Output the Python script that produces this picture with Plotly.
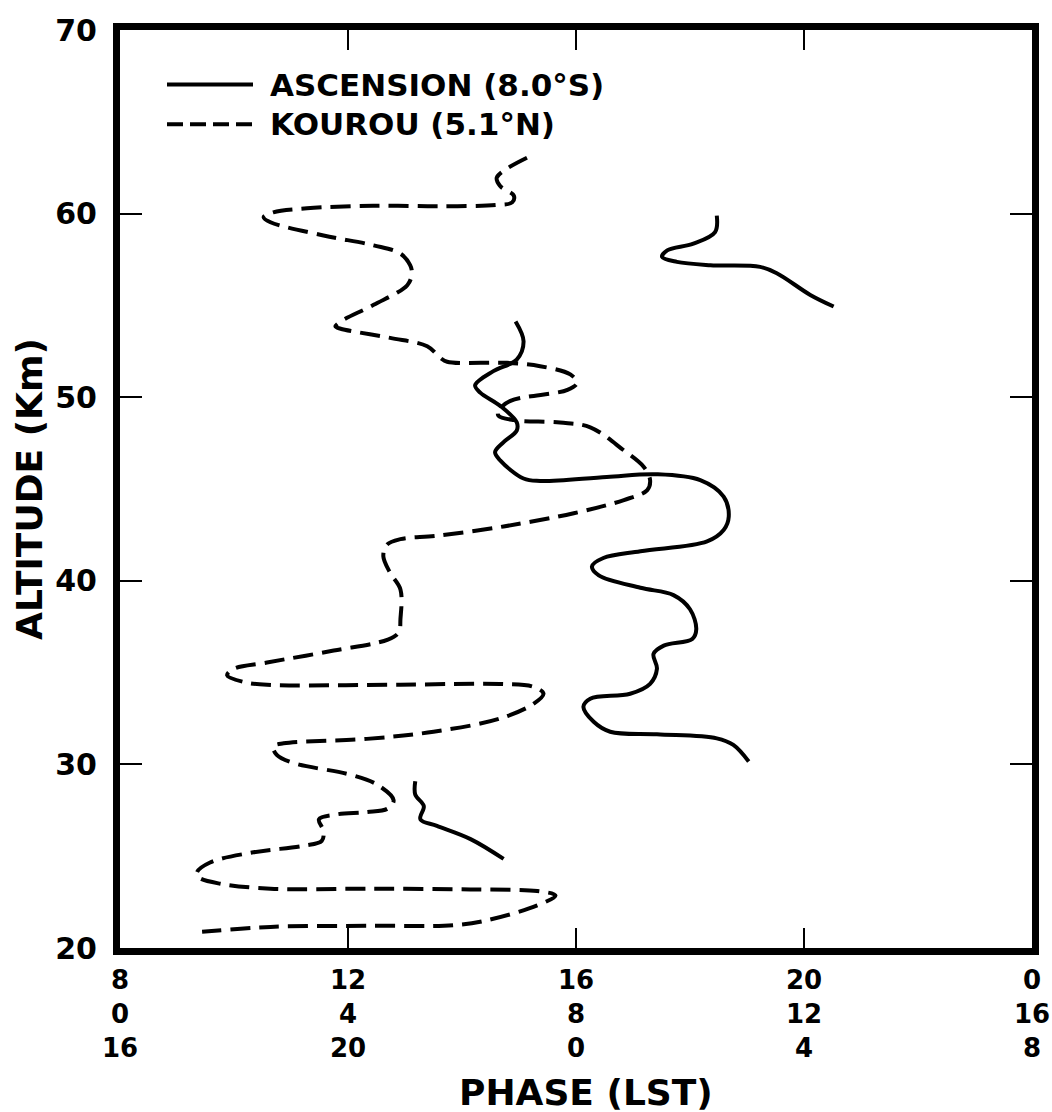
import plotly.graph_objects as go

# Kourou (5.1°N) phase profile: phase in hours (LST axis), altitude in km
kourou_phase = [15.14, 14.61, 14.67, 14.91, 14.88, 14.61, 13.62, 12.44, 11.28, 10.69,
                10.52, 10.64, 11.57, 12.45, 12.92, 13.09, 13.12, 13.04, 12.45, 11.87,
                11.78, 11.87, 12.74, 13.39, 13.62, 13.74, 14.79, 15.37, 15.90, 16.02,
                15.85, 14.85, 14.64, 14.64, 14.91, 15.72, 16.25, 16.84, 17.19, 17.30,
                17.25, 16.84, 15.96, 14.73, 13.55, 12.92, 12.68, 12.62, 12.74, 12.92,
                12.92, 12.89, 12.70, 11.75, 10.58, 9.99, 9.88, 10.17, 10.58, 12.92,
                14.67, 15.26, 15.43, 15.26, 14.67, 13.50, 12.33, 10.87, 10.69, 10.75,
                11.05, 12.04, 12.51, 12.80, 12.70, 12.33, 11.81, 11.49, 11.57, 11.54,
                11.22, 10.34, 9.58, 9.35, 9.38, 9.76, 10.64, 12.39, 14.15, 15.32,
                15.64, 15.32, 14.44, 13.85, 12.39, 10.64, 9.44]
kourou_alt = [63.04, 61.96, 61.50, 60.97, 60.61, 60.47, 60.40, 60.43, 60.29, 60.07,
              59.80, 59.53, 58.81, 58.27, 57.82, 57.19, 56.74, 56.10, 55.03, 54.12,
              53.85, 53.73, 53.23, 52.77, 52.14, 51.93, 51.87, 51.69, 51.24, 50.79,
              50.40, 49.80, 49.26, 48.99, 48.75, 48.62, 48.36, 47.10, 46.20, 45.48,
              44.94, 44.40, 43.68, 42.96, 42.45, 42.27, 41.96, 41.33, 40.43, 39.53,
              37.91, 37.19, 36.80, 36.20, 35.55, 35.20, 34.85, 34.49, 34.34, 34.34,
              34.38, 34.22, 33.85, 33.31, 32.50, 31.78, 31.39, 31.15, 30.97, 30.52,
              30.07, 29.44, 28.90, 28.05, 27.60, 27.40, 27.28, 27.01, 26.38, 25.84,
              25.57, 25.21, 24.66, 24.12, 23.85, 23.50, 23.23, 23.23, 23.19, 23.10,
              22.86, 22.32, 21.51, 21.24, 21.21, 21.15, 20.88]

# Ascension (8.0°S) phase profile, measured in three separate height bands
asc_upper_phase = [18.47, 18.44, 18.06, 17.60, 17.51, 17.77, 18.36, 19.23, 19.53, 20.11, 20.52]
asc_upper_alt = [59.89, 58.99, 58.36, 58.00, 57.64, 57.37, 57.19, 57.10, 56.74, 55.57, 54.94]

asc_middle_phase = [14.94, 15.08, 14.96, 14.55, 14.23, 14.32, 14.67, 14.96, 14.96, 14.73,
                    14.58, 14.67, 15.08, 15.37, 16.54, 17.42, 18.18, 18.59, 18.68, 18.59,
                    18.30, 17.13, 16.48, 16.28, 16.40, 17.13, 17.71, 18.00, 18.11, 18.04,
                    17.54, 17.36, 17.42, 17.30, 16.95, 16.25, 16.13, 16.31, 16.60, 17.42,
                    18.47, 18.76, 19.03]
asc_middle_alt = [54.12, 53.04, 52.05, 51.42, 50.65, 50.25, 49.53, 48.63, 48.18, 47.55,
                  47.01, 46.56, 45.57, 45.44, 45.66, 45.80, 45.48, 44.58, 43.50, 42.77,
                  42.15, 41.61, 41.24, 40.78, 40.30, 39.62, 39.22, 38.45, 37.37, 36.83,
                  36.47, 36.02, 35.21, 34.39, 33.85, 33.58, 33.14, 32.32, 31.78, 31.64,
                  31.42, 31.06, 30.16]

asc_lower_phase = [13.18, 13.18, 13.33, 13.27, 13.56, 14.15, 14.73]
asc_lower_alt = [29.08, 28.36, 27.73, 27.01, 26.65, 25.93, 24.85]

# Phase axis: tick positions and the three LST label rows beneath each tick
phase_ticks = [8, 12, 16, 20, 24]
lst_row1 = ["8", "12", "16", "20", "0"]
lst_row2 = ["0", "4", "8", "12", "16"]
lst_row3 = ["16", "20", "0", "4", "8"]

alt_ticks = [20, 30, 40, 50, 60, 70]

series_names = ["ASCENSION (8.0°S)", "KOUROU (5.1°N)"]

FONT = "DejaVu Sans, Liberation Sans, Arial, sans-serif"
INK = "black"

asc_phase = asc_upper_phase + [None] + asc_middle_phase + [None] + asc_lower_phase
asc_alt = asc_upper_alt + [None] + asc_middle_alt + [None] + asc_lower_alt

fig = go.Figure()
fig.add_trace(go.Scatter(
    x=asc_phase, y=asc_alt, mode="lines", name=series_names[0],
    line=dict(color=INK, width=4, shape="spline", smoothing=1.0),
    connectgaps=False, showlegend=False,
))
fig.add_trace(go.Scatter(
    x=kourou_phase, y=kourou_alt, mode="lines", name=series_names[1],
    line=dict(color=INK, width=4, dash="20px,9px", shape="spline", smoothing=1.0),
    showlegend=False,
))

L, R, T, B = 120, 20, 23, 164
W, H = 1052, 1112
pw, ph = W - L - R, H - T - B


def px_to_paper_x(px):
    return (px - L) / pw


def px_to_paper_y(py):
    return (H - B - py) / ph


# Hand-drawn style legend in the upper-left corner of the frame
legend_rows = [(78, "solid"), (118, "dash")]
shapes = []
annotations = []
for (py, dash), label in zip(legend_rows, series_names):
    shapes.append(dict(
        type="line", xref="paper", yref="paper",
        x0=px_to_paper_x(167), x1=px_to_paper_x(253),
        y0=px_to_paper_y(py), y1=px_to_paper_y(py),
        line=dict(color=INK, width=4, dash="16px,7px" if dash == "dash" else "solid"),
    ))
    annotations.append(dict(
        xref="paper", yref="paper", x=px_to_paper_x(268), y=px_to_paper_y(py),
        xanchor="left", yanchor="middle", showarrow=False, text=label,
        font=dict(family=FONT, size=31, color=INK, weight="bold"),
    ))

# Each phase tick carries a three-line LST label (one line per row)
for xv, a, b, c in zip(phase_ticks, lst_row1, lst_row2, lst_row3):
    annotations.append(dict(
        xref="x", yref="paper", x=xv, y=0, yshift=-66,
        xanchor="center", yanchor="middle", align="center", showarrow=False,
        text=f"{a}<br>{b}<br>{c}",
        font=dict(family=FONT, size=26, color=INK, weight="bold"),
    ))

# Phase axis title below the label rows
annotations.append(dict(
    xref="paper", yref="paper", x=px_to_paper_x(586), y=0, yshift=-144,
    xanchor="center", yanchor="middle", showarrow=False, text="PHASE (LST)",
    font=dict(family=FONT, size=36, color=INK, weight="bold"),
))

fig.update_layout(
    width=W, height=H,
    margin=dict(l=L, r=R, t=T, b=B, pad=0),
    paper_bgcolor="white", plot_bgcolor="white",
    shapes=shapes, annotations=annotations,
    font=dict(family=FONT, color=INK),
)
fig.update_xaxes(
    range=[8, 24], tickvals=phase_ticks, showticklabels=False,
    ticks="inside", ticklen=20, tickwidth=2, tickcolor=INK,
    showline=True, linewidth=7, linecolor=INK, mirror="ticks",
    showgrid=False, zeroline=False,
)
fig.update_yaxes(
    range=[20, 70], tickvals=alt_ticks,
    ticks="inside", ticklen=22, tickwidth=2, tickcolor=INK,
    tickfont=dict(family=FONT, size=30, color=INK, weight="bold"),
    ticklabelstandoff=10,
    showline=True, linewidth=7, linecolor=INK, mirror="ticks",
    showgrid=False, zeroline=False,
    title=dict(text="ALTITUDE (Km)", standoff=4,
               font=dict(family=FONT, size=36, color=INK, weight="bold")),
)

fig.write_html("out.html")
